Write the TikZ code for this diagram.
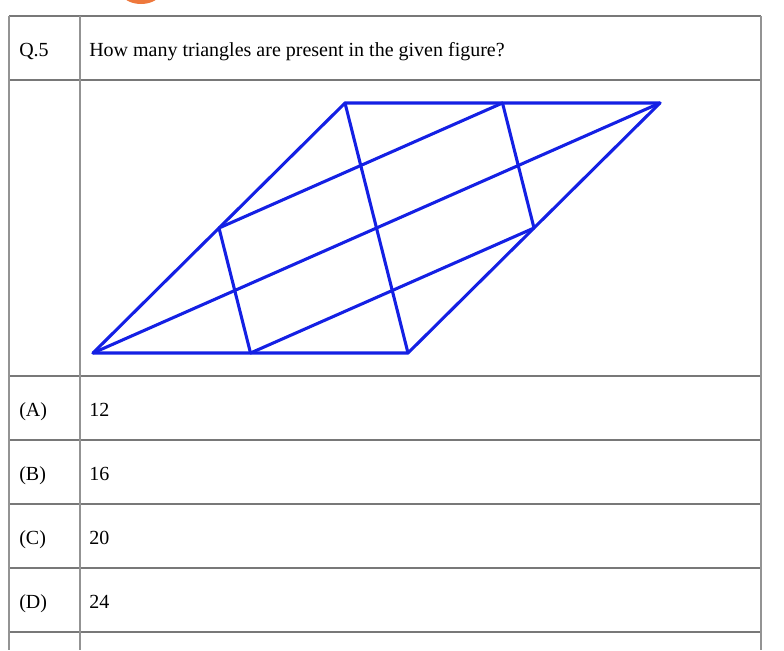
\documentclass[tikz,border=0pt]{standalone}
\usepackage{fontspec}
\setmainfont{Liberation Serif}
\definecolor{figblue}{RGB}{20,32,228}
\definecolor{badge}{RGB}{238,120,60}
\definecolor{rulegray}{RGB}{120,120,120}
\begin{document}
\begin{tikzpicture}[x=0.75pt,y=-0.75pt,
  rulev/.style={draw=rulegray!80,line width=0.9pt},
  ruleh/.style={draw=rulegray,line width=0.9pt},
  cell/.style={anchor=base west,inner sep=0pt,font=\fontsize{15}{18}\selectfont},
  fig/.style={draw=figblue,line width=2.3pt,line join=round,line cap=round}]
\useasboundingbox (0,0) rectangle (784,650);
\fill[badge] (141,-26) circle (30);
% table rules
\foreach \yy in {16,80,376,440,504,568,632}
  \draw[ruleh] (9,\yy) -- (761,\yy);
\foreach \xx in {9,80,761}
  \draw[rulev] (\xx,16) -- (\xx,650);
% texts
\node[cell] (q) at (19,56) {Q.5};
\node[cell] (qt) at (89,56) {How many triangles are present in the given figure?};
\node[cell] (a) at (19,416) {(A)};
\node[cell] (av) at (89,416) {12};
\node[cell] (b) at (19,480) {(B)};
\node[cell] (bv) at (89,480) {16};
\node[cell] (c) at (19,544) {(C)};
\node[cell] (cv) at (89,544) {20};
\node[cell] (d) at (19,608) {(D)};
\node[cell] (dv) at (89,608) {24};
% figure
\coordinate (TL) at (345,103);
\coordinate (TR) at (660,103);
\coordinate (BR) at (408,353);
\coordinate (BL) at (93,353);
\coordinate (TM) at (502.5,103);
\coordinate (BM) at (250.5,353);
\coordinate (LM) at (219,228);
\coordinate (RM) at (534,228);
\draw[fig] (TL) -- (TR) -- (BR) -- (BL) -- cycle;
\draw[fig] (TL) -- (BR);
\draw[fig] (TM) -- (RM);
\draw[fig] (LM) -- (BM);
\draw[fig] (BL) -- (TR);
\draw[fig] (LM) -- (TM);
\draw[fig] (BM) -- (RM);
\end{tikzpicture}
\end{document}
